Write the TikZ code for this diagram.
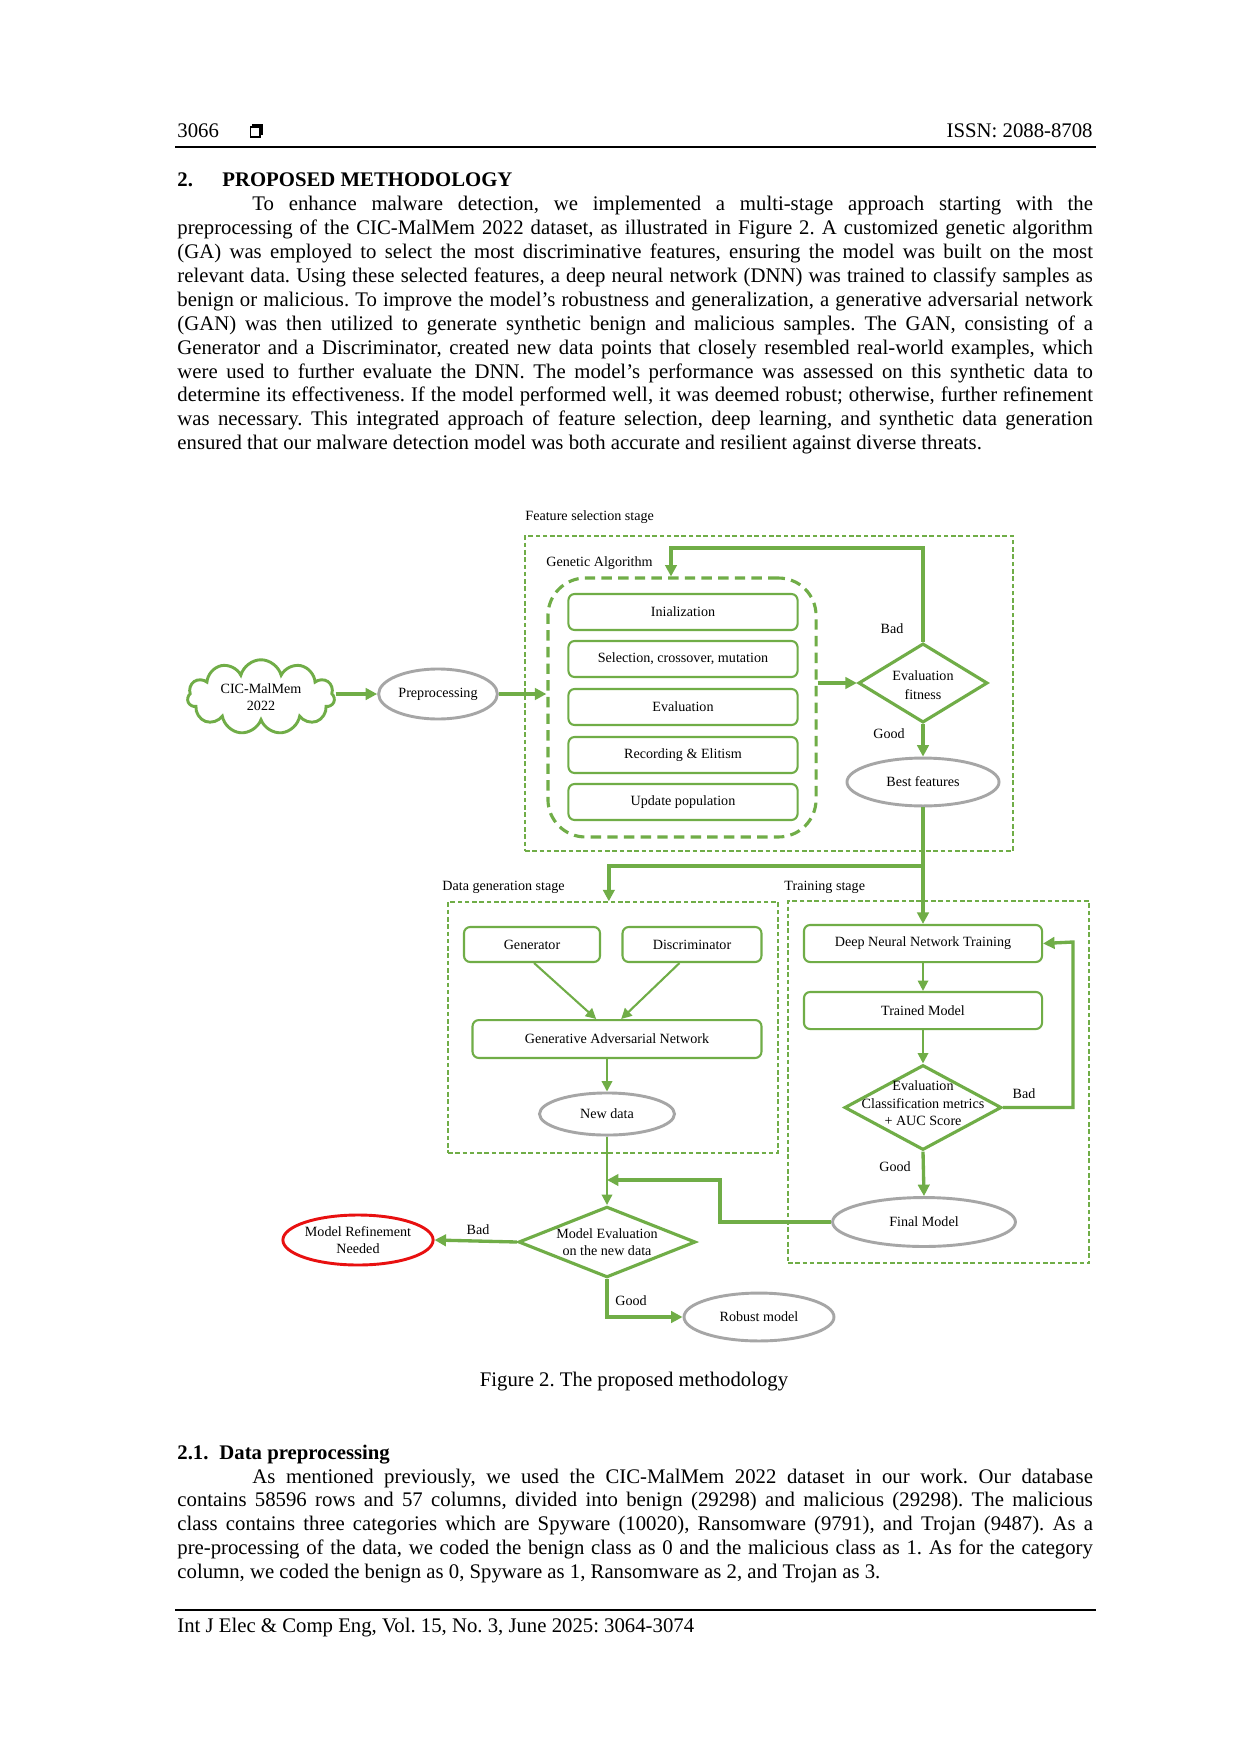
\documentclass[tikz,border=0pt]{standalone}
\usepackage{fontspec}
\setmainfont{Liberation Serif}
\usetikzlibrary{positioning}
\usetikzlibrary{shapes.geometric}
\usetikzlibrary{shapes.symbols}
\usetikzlibrary{arrows.meta}
\definecolor{grn}{RGB}{112,173,71}
\definecolor{gry}{RGB}{166,166,166}
\definecolor{rd}{RGB}{232,16,16}
\newcommand{\bodyfont}{\fontsize{10}{11.5}\selectfont\frenchspacing}
\newcommand{\diagfont}{\fontsize{6.8}{8.5}\selectfont}

\begin{document}
\begin{tikzpicture}[x=0.48006bp,y=-0.48006bp,
	stage/.style={draw=grn,line width=0.7bp,dash pattern=on 2.2bp off 1.3bp},
	stepbox/.style={draw=grn,line width=1bp,rounded corners=3bp,fill=white,minimum height=17.3bp,font=\diagfont},
	oval/.style={ellipse,draw=gry,line width=1.4bp,inner sep=0pt,font=\diagfont,align=center},
	decide/.style={diamond,draw=grn,line width=1.5bp,inner sep=0pt},
	flow/.style={draw=grn,line width=1.6bp,-{Triangle[length=5.5bp,width=5.5bp]}},
	thinflow/.style={draw=grn,line width=1bp,-{Triangle[length=5bp,width=5bp]}},
	lbl/.style={font=\diagfont,inner sep=0pt},
	page/.style={font=\bodyfont,inner sep=0pt,anchor=base west}]
	\useasboundingbox (0,0) rectangle (1240,1754);
	\fill[white] (0,0) rectangle (1240,1754);
	%% header
	\node[page] (pnum) at (177,138) {3066};
	\draw[line width=0.7bp] (250.5,127) rectangle (260,137);
	\draw[line width=1.4bp] (252,125) -- (262,125) -- (262,135);
	\node[page,anchor=base east] (issn) at (1093,138) {ISSN: 2088-8708};
	\draw[line width=1bp] (175,147) -- (1096,147);
	%% section 2
	\node[page] (sec) at (177,187) {\textbf{2.}};
	\node[page] (sectitle) at (222,187) {\textbf{PROPOSED METHODOLOGY}};
	\node[page] (para1) at (177,211) {\parbox[t]{439.5bp}{\bodyfont\hyphenpenalty=10000\exhyphenpenalty=10000
		\hspace*{36bp}To enhance malware detection, we implemented a multi-stage approach starting with the\linebreak
		preprocessing of the CIC-MalMem 2022 dataset, as illustrated in Figure 2. A customized genetic algorithm\linebreak
		(GA) was employed to select the most discriminative features, ensuring the model was built on the most\linebreak
		relevant data. Using these selected features, a deep neural network (DNN) was trained to classify samples as\linebreak
		benign or malicious. To improve the model's robustness and generalization, a generative adversarial network\linebreak
		(GAN) was then utilized to generate synthetic benign and malicious samples. The GAN, consisting of a\linebreak
		Generator and a Discriminator, created new data points that closely resembled real-world examples, which\linebreak
		were used to further evaluate the DNN. The model's performance was assessed on this synthetic data to\linebreak
		determine its effectiveness. If the model performed well, it was deemed robust; otherwise, further refinement\linebreak
		was necessary. This integrated approach of feature selection, deep learning, and synthetic data generation\linebreak
		ensured that our malware detection model was both accurate and resilient against diverse threats.}};

	%% feature selection stage
	\node[stage,minimum width=234.3bp,minimum height=151.2bp] (fs) at (769,693.5) {};
	\node[lbl,anchor=west] (fslbl) at (525,517) {Feature selection stage};
	\node[lbl,anchor=west] (galbl) at (546,563) {Genetic Algorithm};
	\node[draw=grn,line width=1.5bp,dash pattern=on 5bp off 3bp,rounded corners=18bp,minimum width=128.7bp,minimum height=124.3bp] (ga) at (682,707.5) {};
	\node[stepbox,minimum width=110bp] (init) at (683,612) {Inialization};
	\node[stepbox,minimum width=110bp] (sel) at (683,659) {Selection, crossover, mutation};
	\node[stepbox,minimum width=110bp] (evg) at (683,707) {Evaluation};
	\node[stepbox,minimum width=110bp] (rec) at (683,755) {Recording \& Elitism};
	\node[stepbox,minimum width=110bp] (upd) at (683,802) {Update population};
	\node[decide,minimum width=62bp,minimum height=38bp,label={[lbl,align=center,yshift=-1bp]center:Evaluation\\[1pt]fitness}] (fit) at (923,683) {};
	\node[oval,minimum width=73bp,minimum height=23bp] (best) at (923,782) {Best features};
	\node[lbl] (fitbad) at (892,629) {Bad};
	\node[lbl] (fitgood) at (889,734) {Good};
	\coordinate (gtop) at (671,548);
	\draw[flow] (fit.west -| ga.east) -- (fit.west);
	\draw[flow] (fit.north) |- (gtop) -- (gtop |- ga.north);
	\draw[flow] (fit.south) -- (best.north);

	%% input
	\node[cloud,cloud puffs=11,aspect=2.2,draw=grn,line width=1.4bp,minimum width=70.6bp,minimum height=32.2bp,inner sep=0pt,font=\diagfont,align=center] (cic) at (261,697) {CIC-MalMem\\2022};
	\node[oval,minimum width=57bp,minimum height=24bp] (pre) at (438,694) {Preprocessing};
	\draw[flow] (cic.east |- pre.west) -- (pre.west);
	\draw[flow] (pre.east) -- (pre.east -| ga.west);

	%% data generation stage
	\node[stage,minimum width=158.4bp,minimum height=120.5bp] (dg) at (613,1027.5) {};
	\node[lbl,anchor=west] (dglbl) at (442,887) {Data generation stage};
	\node[stepbox,minimum width=65.3bp,minimum height=16.8bp] (gen) at (532,944.5) {Generator};
	\node[stepbox,minimum width=66.7bp,minimum height=16.8bp] (disc) at (692,944.5) {Discriminator};
	\node[stepbox,minimum width=138.7bp,minimum height=18.2bp] (gan) at (617,1039) {Generative Adversarial Network};
	\node[oval,minimum width=64.8bp,minimum height=20.2bp] (nd) at (607,1114) {New data};
	\draw[thinflow] ([xshift=1bp]gen.south) -- ([xshift=-10bp]gan.north);
	\draw[thinflow] ([xshift=-6bp]disc.south) -- ([xshift=2bp]gan.north);
	\draw[thinflow] (nd.north |- gan.south) -- (nd.north);

	%% training stage
	\node[stage,minimum width=144.5bp,minimum height=173.8bp] (tr) at (938.5,1082) {};
	\node[lbl,anchor=west] (trlbl) at (784,887) {Training stage};
	\node[stepbox,minimum width=114.3bp,minimum height=17.8bp] (dnn) at (923,943.5) {Deep Neural Network Training};
	\node[stepbox,minimum width=114.3bp,minimum height=17.8bp] (trm) at (923,1010.5) {Trained Model};
	\node[decide,minimum width=75.4bp,minimum height=40.8bp,label={[lbl,align=center,yshift=2bp]center:Evaluation\\Classification metrics\\+ AUC Score}] (evl) at (923,1107.5) {};
	\node[oval,minimum width=87.8bp,minimum height=23.5bp] (fin) at (924,1222) {Final Model};
	\node[lbl] (evlbad) at (1024,1094) {Bad};
	\node[lbl] (evlgood) at (895,1167) {Good};
	\coordinate (back) at (1073,942);
	\draw[thinflow] (dnn.south) -- (trm.north);
	\draw[thinflow] (trm.south) -- (evl.north);
	\draw[flow] (evl.south) -- (fin.north);
	\draw[flow] (evl.east) -| (back) -- (dnn.east);

	%% split after best features
	\coordinate (split) at (923,866);
	\draw[flow] (best.south) -- (dnn.north);
	\draw[flow] (split) -| ([xshift=-2bp]dg.north);

	%% final check
	\node[decide,minimum width=85bp,minimum height=34bp,label={[lbl,align=center]center:Model Evaluation\\on the new data}] (meval) at (607,1242) {};
	\node[ellipse,draw=rd,line width=1.4bp,inner sep=0pt,font=\diagfont,align=center,minimum width=70bp,minimum height=24bp] (refine) at (358,1240) {Model Refinement\\Needed};
	\node[oval,minimum width=72bp,minimum height=23bp] (robust) at (759,1317) {Robust model};
	\node[lbl] (mbad) at (478,1230) {Bad};
	\node[lbl] (mgood) at (631,1301) {Good};
	\coordinate (mrg) at (720,1180);
	\draw[thinflow] (nd.south) -- (meval.north);
	\draw[flow] (fin.west) -| (mrg) -- (mrg -| meval.north);
	\draw[flow] (meval.west) -- (refine.east);
	\draw[flow] (meval.south) |- (robust.west);

	\node[page,anchor=base] (cap) at (634,1386) {Figure 2. The proposed methodology};

	%% section 2.1
	\node[page] (sub) at (177,1459) {\textbf{2.1.}};
	\node[page] (subtitle) at (219,1459) {\textbf{Data preprocessing}};
	\node[page] (para2) at (177,1483) {\parbox[t]{439.5bp}{\bodyfont\hyphenpenalty=10000\exhyphenpenalty=10000
		\hspace*{36bp}As mentioned previously, we used the CIC-MalMem 2022 dataset in our work. Our database\linebreak
		contains 58596 rows and 57 columns, divided into benign (29298) and malicious (29298). The malicious\linebreak
		class contains three categories which are Spyware (10020), Ransomware (9791), and Trojan (9487). As a\linebreak
		pre-processing of the data, we coded the benign class as 0 and the malicious class as 1. As for the category\linebreak
		column, we coded the benign as 0, Spyware as 1, Ransomware as 2, and Trojan as 3.}};

	%% footer
	\draw[line width=1bp] (175,1610) -- (1096,1610);
	\node[page] (foot) at (177,1632) {Int J Elec \& Comp Eng, Vol. 15, No. 3, June 2025: 3064-3074};
\end{tikzpicture}
\end{document}
